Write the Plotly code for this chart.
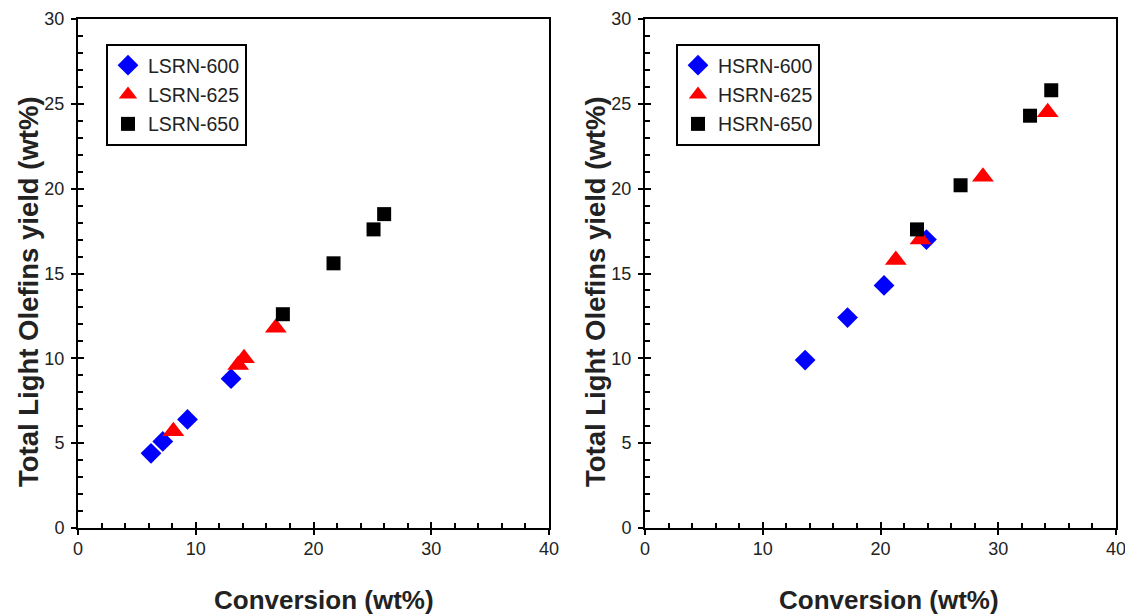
import plotly.graph_objects as go

# Left panel: LSRN feeds
lsrn600_x = [6.2, 7.2, 9.3, 13.0]
lsrn600_y = [4.4, 5.1, 6.4, 8.8]
lsrn625_x = [8.1, 13.6, 14.1, 16.8]
lsrn625_y = [5.7, 9.6, 10.0, 11.8]
lsrn650_x = [17.4, 21.7, 25.1, 26.0]
lsrn650_y = [12.6, 15.6, 17.6, 18.5]

# Right panel: HSRN feeds
hsrn600_x = [13.6, 17.2, 20.3, 23.9]
hsrn600_y = [9.9, 12.4, 14.3, 17.0]
hsrn625_x = [21.3, 23.4, 28.7, 34.2]
hsrn625_y = [15.8, 17.0, 20.7, 24.5]
hsrn650_x = [23.1, 26.8, 32.7, 34.5]
hsrn650_y = [17.6, 20.2, 24.3, 25.8]

# page has an 8px body margin, so work in page pixels and convert
OFF = 8
W, H = 1133 - OFF, 616 - OFF
FONT = "Liberation Sans, Arial, sans-serif"


def px_x(p):
    return (p - OFF) / W


def px_y(p):
    return 1 - (p - OFF) / H


fig = go.Figure()

styles = [
    ("blue", "diamond", 16),
    ("red", "triangle-up", 19),
    ("black", "square", 14),
]

left = [("LSRN-600", lsrn600_x, lsrn600_y), ("LSRN-625", lsrn625_x, lsrn625_y),
        ("LSRN-650", lsrn650_x, lsrn650_y)]
right = [("HSRN-600", hsrn600_x, hsrn600_y), ("HSRN-625", hsrn625_x, hsrn625_y),
         ("HSRN-650", hsrn650_x, hsrn650_y)]

for (name, xs, ys), (col, sym, sz) in zip(left, styles):
    fig.add_trace(go.Scatter(x=xs, y=ys, mode="markers", name=name,
                             marker=dict(color=col, symbol=sym, size=sz, line=dict(width=0)),
                             xaxis="x", yaxis="y", legend="legend", legendgroup=name))
for (name, xs, ys), (col, sym, sz) in zip(right, styles):
    fig.add_trace(go.Scatter(x=xs, y=ys, mode="markers", name=name,
                             marker=dict(color=col, symbol=sym, size=sz, line=dict(width=0)),
                             xaxis="x2", yaxis="y2", legend="legend2", legendgroup=name))

# invisible traces so the overlay axes (outer half of crossing ticks) are drawn
for xa, ya in [("x3", "y3"), ("x4", "y4")]:
    fig.add_trace(go.Scatter(x=[None], y=[None], mode="markers", xaxis=xa, yaxis=ya,
                             showlegend=False, hoverinfo="skip"))

xd1 = [px_x(78), px_x(549)]
xd2 = [px_x(645), px_x(1116)]
yd = [px_y(528), px_y(19)]

tickfont = dict(family=FONT, size=18, color="#222")
titlefont = dict(family=FONT, size=26, color="#222", weight="bold")


def main_x(domain, anchor):
    return dict(domain=domain, anchor=anchor, range=[0, 40], dtick=10, automargin=False,
                showline=True, linecolor="black", linewidth=2, mirror=True,
                ticks="inside", ticklen=6, tickwidth=2, tickcolor="black",
                minor=dict(dtick=2, ticks="inside", ticklen=5, tickwidth=1.5, tickcolor="black"),
                showgrid=False, zeroline=False, tickfont=tickfont, ticklabelstandoff=3)


def main_y(domain, anchor):
    return dict(domain=domain, anchor=anchor, range=[0, 30], dtick=5, automargin=False,
                showline=True, linecolor="black", linewidth=2, mirror=True,
                ticks="inside", ticklen=6, tickwidth=2, tickcolor="black",
                minor=dict(dtick=1, ticks="inside", ticklen=5, tickwidth=1.5, tickcolor="black"),
                showgrid=False, zeroline=False, tickfont=tickfont, ticklabelstandoff=8)


def over_axis(domain, anchor, overlay, rng, dt):
    return dict(domain=domain, anchor=anchor, overlaying=overlay, range=rng, dtick=dt,
                automargin=False, showline=False, ticks="outside", ticklen=6, tickwidth=2,
                tickcolor="black", showticklabels=False, showgrid=False, zeroline=False)


legend_common = dict(bordercolor="black", borderwidth=2, bgcolor="white",
                     font=dict(family=FONT, size=19.5, color="#222"),
                     xanchor="left", yanchor="top", tracegroupgap=1,
                     traceorder="grouped", itemwidth=30)

# axis titles as annotations so they sit where the original puts them
titles = []
for cx, cy in [(324, 600), (889, 600)]:
    titles.append(dict(text="Conversion (wt%)", x=px_x(cx), y=px_y(cy), xref="paper", yref="paper",
                       showarrow=False, font=titlefont, xanchor="center", yanchor="middle"))
for cx, cy in [(28, 292), (595, 292)]:
    titles.append(dict(text="Total Light Olefins yield (wt%)", x=px_x(cx), y=px_y(cy),
                       xref="paper", yref="paper", showarrow=False, textangle=-90,
                       font=dict(family=FONT, size=27.5, color="#222", weight="bold"),
                       xanchor="center", yanchor="middle"))

fig.update_layout(
    width=W, height=H,
    margin=dict(l=0, r=0, t=0, b=0),
    paper_bgcolor="white", plot_bgcolor="white",
    xaxis=main_x(xd1, "y"),
    yaxis=main_y(yd, "x"),
    xaxis2=main_x(xd2, "y2"),
    yaxis2=main_y(yd, "x2"),
    xaxis3=over_axis(xd1, "y", "x", [0, 40], 10),
    yaxis3=over_axis(yd, "x", "y", [0, 30], 5),
    xaxis4=over_axis(xd2, "y2", "x2", [0, 40], 10),
    yaxis4=over_axis(yd, "x2", "y2", [0, 30], 5),
    legend=dict(x=px_x(106), y=px_y(44), **legend_common),
    legend2=dict(x=px_x(676), y=px_y(44), **legend_common),
    annotations=titles,
)

fig.write_html("out.html")
